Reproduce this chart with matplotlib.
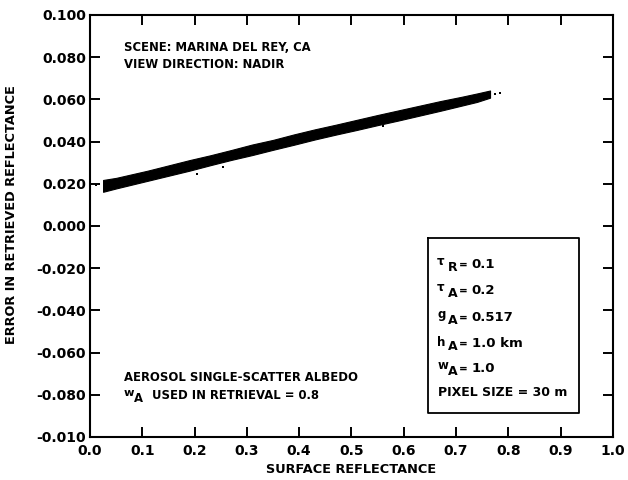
import matplotlib
matplotlib.use("Agg")
import matplotlib.pyplot as plt

# ---- data ----
# band of retrieved-reflectance errors: surface reflectance vs upper / lower edges
band_x = [0.025, 0.05, 0.08, 0.11, 0.15, 0.19, 0.23, 0.27, 0.31, 0.35, 0.39,
          0.43, 0.47, 0.51, 0.55, 0.59, 0.63, 0.67, 0.71, 0.74, 0.765]
band_upper = [0.0218, 0.0228, 0.0245, 0.0262, 0.0287, 0.0312, 0.0335, 0.0360,
              0.0386, 0.0408, 0.0434, 0.0458, 0.0480, 0.0503, 0.0526, 0.0548,
              0.0570, 0.0592, 0.0612, 0.0628, 0.0642]
band_lower = [0.0162, 0.0178, 0.0196, 0.0214, 0.0238, 0.0262, 0.0288, 0.0313,
              0.0336, 0.0361, 0.0385, 0.0410, 0.0433, 0.0455, 0.0478, 0.0500,
              0.0523, 0.0546, 0.0570, 0.0588, 0.0608]
# stray specks around the band
speck_x = [0.012, 0.018, 0.205, 0.255, 0.56, 0.70, 0.745, 0.775, 0.785]
speck_y = [0.0195, 0.0200, 0.0245, 0.0280, 0.0475, 0.0565, 0.0595, 0.0625, 0.0628]

x_ticks = [0.0, 0.1, 0.2, 0.3, 0.4, 0.5, 0.6, 0.7, 0.8, 0.9, 1.0]
x_tick_labels = ["0.0", "0.1", "0.2", "0.3", "0.4", "0.5", "0.6", "0.7", "0.8", "0.9", "1.0"]
y_ticks = [0.100, 0.080, 0.060, 0.040, 0.020, 0.000, -0.020, -0.040, -0.060, -0.080, -0.100]
y_tick_labels = ["0.100", "0.080", "0.060", "0.040", "0.020", "0.000",
                 "-0.020", "-0.040", "-0.060", "-0.080", "-0.010"]

# parameter box entries: symbol, subscript, value
param_sym = ["\u03c4", "\u03c4", "g", "h", "w"]
param_sub = ["R", "A", "A", "A", "A"]
param_val = ["0.1", "0.2", "0.517", "1.0 km", "1.0"]
pixel_text = "PIXEL SIZE = 30 m"

plt.rcParams['font.family'] = ['DejaVu Sans']
plt.rcParams['font.weight'] = 'bold'

fig = plt.figure(figsize=(6.28, 4.80), dpi=100)
ax = fig.add_axes([0.1433, 0.0896, 0.8327, 0.8792])

ax.fill_between(band_x, band_lower, band_upper, color='black', linewidth=0.8,
                edgecolor='black')
ax.scatter(speck_x, speck_y, s=2, color='black', marker='s', linewidths=0)

ax.set_xlim(0.0, 1.0)
ax.set_ylim(-0.100, 0.100)
ax.set_xticks(x_ticks)
ax.set_xticklabels(x_tick_labels)
ax.set_yticks(y_ticks)
ax.set_yticklabels(y_tick_labels)
ax.tick_params(direction='in', length=7, width=1.4, top=True, right=True,
               labelsize=10)
ax.tick_params(axis='x', pad=5)
ax.tick_params(axis='y', pad=3)
for lab in ax.get_xticklabels() + ax.get_yticklabels():
    lab.set_fontweight('bold')
for sp in ax.spines.values():
    sp.set_linewidth(1.5)

ax.set_xlabel("SURFACE REFLECTANCE", fontsize=9.3, fontweight='bold')
ax.set_ylabel("ERROR IN RETRIEVED REFLECTANCE", fontsize=9.3, fontweight='bold')
ax.xaxis.set_label_coords(0.5, -0.062)
ax.yaxis.set_label_coords(-0.137, 0.527)

fs = 8.4
tk = dict(fontsize=fs, fontweight='bold', va='center', ha='left')
ax.text(0.065, 0.0848, "SCENE: MARINA DEL REY, CA", **tk)
ax.text(0.065, 0.0763, "VIEW DIRECTION: NADIR", **tk)
ax.text(0.065, -0.0716, "AEROSOL SINGLE-SCATTER ALBEDO", **tk)
# w_A USED IN RETRIEVAL = 0.8
b0 = -0.0801 - 0.0019
tb = dict(fontweight='bold', va='baseline', ha='left')
ax.text(0.064, b0 + 0.0012, "w", fontsize=8.2, **tb)
ax.text(0.084, b0 - 0.0014, "A", fontsize=fs, **tb)
ax.text(0.119, b0, "USED IN RETRIEVAL = 0.8", fontsize=fs, **tb)

# parameter box
box_left, box_right, box_top, box_bottom = 0.647, 0.935, -0.0057, -0.0887
ax.plot([box_left, box_right, box_right, box_left, box_left],
        [box_top, box_top, box_bottom, box_bottom, box_top],
        color='black', linewidth=1.3)
py = [-0.0176, -0.0299, -0.0427, -0.0550, -0.0668]
fv = 9.5
for sym, sub, val, yy in zip(param_sym, param_sub, param_val, py):
    b = yy - 0.00228
    lift = 0.0002 if sym == "h" else 0.0014
    ax.text(0.664, b + lift, sym, fontsize=8.5, **tb)
    ax.text(0.685, b - 0.0014, sub, fontsize=9, **tb)
    ax.text(0.706, b + 0.0002, "=", fontsize=7.5, **tb)
    ax.text(0.730, b, val, fontsize=fv, **tb)
ax.text(0.666, -0.0787, pixel_text, fontsize=9, fontweight='bold',
        va='center', ha='left')

fig.savefig("out.png", dpi=100)
